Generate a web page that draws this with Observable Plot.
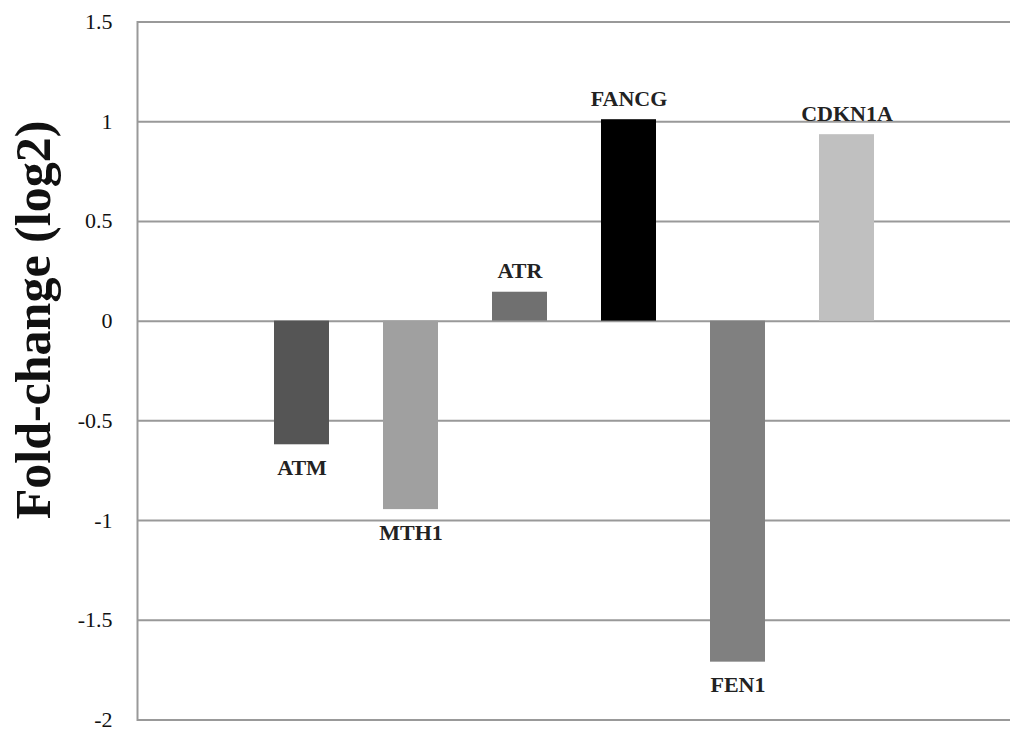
<!DOCTYPE html>
<html>
<head>
<meta charset="utf-8">
<script src="https://cdn.jsdelivr.net/npm/d3@7"></script>
<script src="https://cdn.jsdelivr.net/npm/@observablehq/plot@0.6"></script>
<style>
  html, body { margin: 0; padding: 0; background: #fff; }
  #chart svg { display: block; }
  #chart svg text { font-family: "Liberation Serif", "Times New Roman", serif; }
</style>
</head>
<body>
<div id="chart"></div>
<script>
const genes = ["ATM", "MTH1", "ATR", "FANCG", "FEN1", "CDKN1A"];
const values = [-0.62, -0.945, 0.145, 1.01, -1.71, 0.935];
const colors = ["#555555", "#a0a0a0", "#707070", "#000000", "#808080", "#c0c0c0"];
const yTicks = [-2, -1.5, -1, -0.5, 0, 0.5, 1, 1.5];
const yTickLabels = ["-2", "-1.5", "-1", "-0.5", "0", "0.5", "1", "1.5"];
const yTitle = "Fold-change (log2)";

const data = genes.map((g, i) => ({gene: g, value: values[i], color: colors[i]}));
const serif = "Liberation Serif";

const chart = Plot.plot({
  width: 1024,
  height: 743,
  marginTop: 21.5,
  marginBottom: 23.5,
  marginLeft: 137,
  marginRight: 14,
  style: {fontFamily: "Liberation Serif, serif", background: "#fff"},
  x: {domain: genes, paddingInner: 0.5, paddingOuter: 1.25, axis: null},
  y: {domain: [-2, 1.5]},
  marks: [
    Plot.ruleY(yTicks, {stroke: "#999", strokeWidth: 2}),
    Plot.frame({anchor: "left", stroke: "#999", strokeWidth: 2}),
    Plot.barY(data, {x: "gene", y: "value", fill: "color"}),
    Plot.axisY(yTicks, {
      tickSize: 0, tickPadding: 25, fontSize: 22, fill: "#111", fontFamily: serif,
      tickFormat: (d) => yTickLabels[yTicks.indexOf(d)], label: null
    }),
    Plot.text(data.filter(d => d.value < 0), {
      x: "gene", y: "value", text: "gene", dy: 23, fontFamily: serif,
      fontSize: 22, fontWeight: "bold", fill: "#222"
    }),
    Plot.text(data.filter(d => d.value >= 0), {
      x: "gene", y: "value", text: "gene", dy: -21, fontFamily: serif,
      fontSize: 22, fontWeight: "bold", fill: "#222"
    }),
    Plot.text([yTitle], {
      frameAnchor: "left", textAnchor: "middle", text: d => d, rotate: -90, dx: -104, dy: -51,
      fontFamily: serif, fontSize: 50, fontWeight: "bold", fill: "#111"
    })
  ]
});
document.getElementById("chart").appendChild(chart);
</script>
</body>
</html>
